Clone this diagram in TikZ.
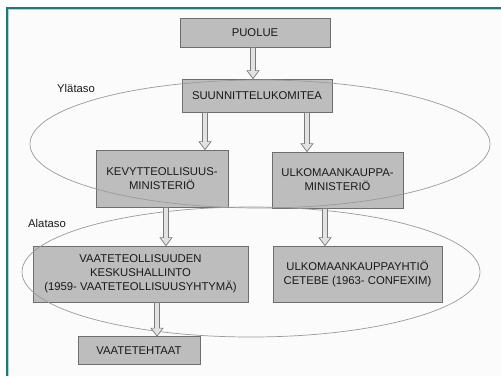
\documentclass[tikz,border=0pt]{standalone}
\usepackage{fontspec}
\setmainfont{Liberation Sans}
\usetikzlibrary{calc}
\definecolor{frameteal}{HTML}{1B7B78}
\definecolor{boxfill}{HTML}{BDBDBD}
\definecolor{boxline}{HTML}{6E6E6E}
\definecolor{ellline}{HTML}{9A9A9A}
\definecolor{arrline}{HTML}{7A7A7A}
\definecolor{arrfill}{HTML}{E2E2E2}
\definecolor{bgcol}{HTML}{FBFBFB}
\tikzset{
  orgbox/.style={draw=boxline, fill=boxfill, line width=0.8pt, align=center,
    inner sep=0pt, text=black!90, font=\fontsize{11.3}{14}\selectfont},
  ell/.style={draw=ellline, line width=0.7pt},
  arrowst/.style={draw=arrline, fill=arrfill, line width=0.7pt, line join=miter},
  lvl/.style={font=\fontsize{11.3}{14}\selectfont, text=black!90, inner sep=0pt}
}
\newcommand\blockarr[3]{%
  \path[arrowst] let \p1=(#2.south), \p2=(#3.north) in
    ({#1pt-2.5pt},{\y1}) -- ({#1pt-2.5pt},{\y2+8pt}) -- ({#1pt-6pt},{\y2+8pt})
    -- ({#1pt},{\y2}) -- ({#1pt+6pt},{\y2+8pt}) -- ({#1pt+2.5pt},{\y2+8pt})
    -- ({#1pt+2.5pt},{\y1}) -- cycle;}
\begin{document}
\begin{tikzpicture}[x=1pt,y=-1pt]
\useasboundingbox (0,0) rectangle (501,376);
\fill[white] (0,0) rectangle (501,376);
\fill[bgcol] (7,8) rectangle (501,376);
\draw[frameteal, line width=1.6pt] (7,376) -- (7,8) -- (501,8);
\draw[frameteal!35, line width=0.6pt] (8.6,376) -- (8.6,9.6) -- (501,9.6);

\node[orgbox, minimum width=150pt, minimum height=29pt] (puolue) at (255,32.5) {PUOLUE};
\node[orgbox, minimum width=150pt, minimum height=33pt] (suun) at (257,95.5) {SUUNNITTELUKOMITEA};
\node[orgbox, minimum width=132pt, minimum height=57pt] (kevy) at (162,178.5) {KEVYTTEOLLISUUS-\\MINISTERIÖ};
\node[orgbox, minimum width=131pt, minimum height=56pt] (ulko) at (337.5,180) {ULKOMAANKAUPPA-\\MINISTERIÖ};
\node[orgbox, minimum width=215pt, minimum height=56pt] (vaate) at (140.5,274) {VAATETEOLLISUUDEN\\KESKUSHALLINTO\\(1959- VAATETEOLLISUUSYHTYMÄ)};
\node[orgbox, minimum width=169pt, minimum height=56pt] (ulkoy) at (357.5,274) {ULKOMAANKAUPPAYHTIÖ\\CETEBE (1963- CONFEXIM)};
\node[orgbox, minimum width=122pt, minimum height=28pt] (vaateh) at (139,350.5) {VAATETEHTAAT};

\node[lvl, anchor=west] (ylataso) at (57,88) {Ylätaso};
\node[lvl, anchor=west] (alataso) at (28,223) {Alataso};

\draw[ell] (260,144) ellipse [x radius=230pt, y radius=64pt];
\draw[ell] (251,272) ellipse [x radius=229pt, y radius=65pt];

\blockarr{253}{puolue}{suun}
\blockarr{205}{suun}{kevy}
\blockarr{307}{suun}{ulko}
\blockarr{166}{kevy}{vaate}
\blockarr{325}{ulko}{ulkoy}
\blockarr{157}{vaate}{vaateh}
\end{tikzpicture}
\end{document}
